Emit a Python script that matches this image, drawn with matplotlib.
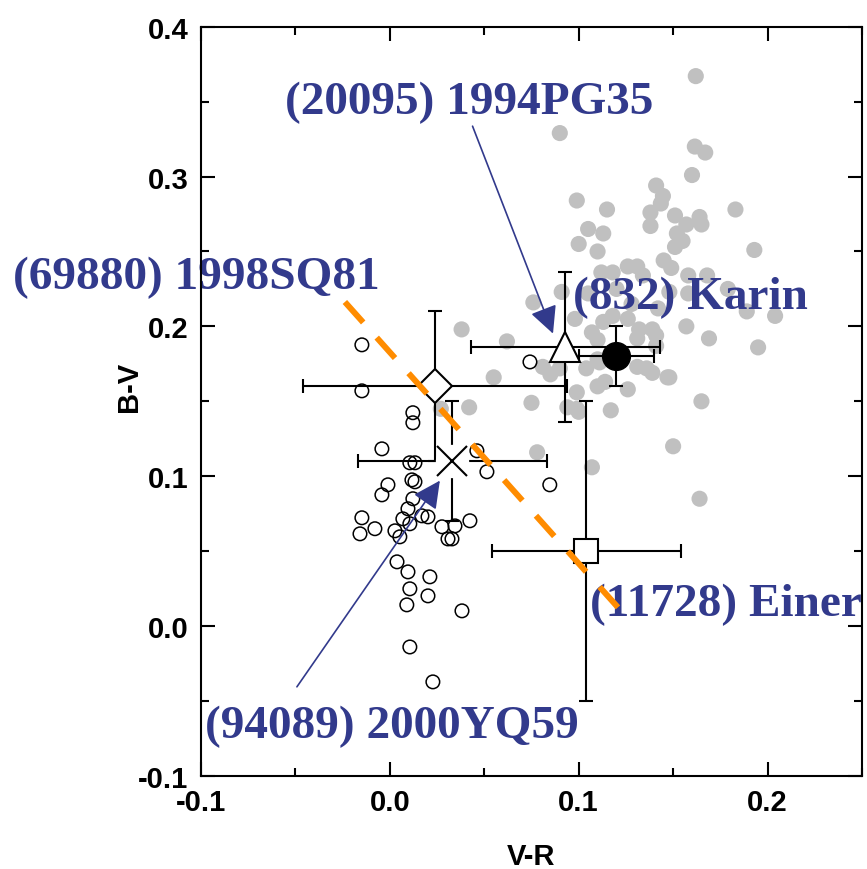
import matplotlib
matplotlib.use('Agg')
import matplotlib.pyplot as plt
from matplotlib.ticker import MultipleLocator, FormatStrFormatter

plt.rcParams['axes.unicode_minus'] = False

# background asteroids (gray dots)
gray_vr = [0.162, 0.090, 0.1615, 0.167, 0.160, 0.141, 0.1446, 0.1435, 0.099, 0.115,
           0.138, 0.183, 0.151, 0.164, 0.165, 0.157, 0.138, 0.105, 0.113, 0.152,
           0.155, 0.100, 0.151, 0.110, 0.193, 0.145, 0.149, 0.112, 0.118, 0.126,
           0.131, 0.134, 0.158, 0.168, 0.091, 0.076, 0.179, 0.148, 0.158, 0.189,
           0.204, 0.157, 0.169, 0.195, 0.038, 0.062, 0.055, 0.075, 0.042, 0.027,
           0.165, 0.148, 0.139, 0.126, 0.117, 0.099, 0.150, 0.078, 0.107, 0.164,
           0.081, 0.085, 0.090, 0.104, 0.110, 0.110, 0.094, 0.131, 0.107, 0.110,
           0.113, 0.118, 0.126, 0.132, 0.139, 0.141, 0.141, 0.131, 0.111, 0.136,
           0.147, 0.099, 0.100, 0.114, 0.105, 0.120, 0.128, 0.142, 0.098]
gray_bv = [0.367, 0.329, 0.320, 0.316, 0.301, 0.294, 0.287, 0.282, 0.284, 0.278,
           0.276, 0.278, 0.274, 0.273, 0.268, 0.268, 0.267, 0.265, 0.262, 0.262,
           0.257, 0.255, 0.253, 0.250, 0.251, 0.244, 0.239, 0.236, 0.236, 0.240,
           0.240, 0.234, 0.234, 0.234, 0.223, 0.216, 0.225, 0.223, 0.222, 0.210,
           0.207, 0.200, 0.192, 0.186, 0.198, 0.190, 0.166, 0.149, 0.146, 0.145,
           0.150, 0.166, 0.169, 0.158, 0.144, 0.156, 0.120, 0.116, 0.106, 0.085,
           0.173, 0.168, 0.172, 0.172, 0.178, 0.160, 0.146, 0.173, 0.196, 0.191,
           0.203, 0.207, 0.205, 0.198, 0.198, 0.194, 0.187, 0.192, 0.176, 0.172,
           0.166, 0.145, 0.143, 0.163, 0.222, 0.225, 0.215, 0.212, 0.205]

# open circles
open_vr = [-0.0148, -0.0148, 0.0742, 0.0122, 0.0122, -0.0042, 0.0106, 0.0133, 0.0461, 0.0514,
           0.0847, -0.0010, -0.0042, 0.0117, 0.0133, 0.0122, 0.0096, -0.0148, -0.0079, -0.0158,
           0.0069, 0.0106, 0.0170, 0.0202, 0.0027, 0.0053, 0.0276, 0.0345, 0.0424, 0.0308,
           0.0329, 0.0038, 0.0096, 0.0212, 0.0106, 0.0202, 0.0090, 0.0382, 0.0106, 0.0228]
open_bv = [0.1877, 0.1570, 0.1763, 0.1424, 0.1357, 0.1183, 0.1090, 0.1090, 0.1170, 0.1030,
           0.0943, 0.0943, 0.0876, 0.0976, 0.0963, 0.0850, 0.0783, 0.0723, 0.0650, 0.0616,
           0.0716, 0.0683, 0.0736, 0.0729, 0.0636, 0.0596, 0.0663, 0.0669, 0.0703, 0.0582,
           0.0582, 0.0429, 0.0362, 0.0329, 0.0249, 0.0202, 0.0142, 0.0102, -0.0139, -0.0372]

# named asteroids: (V-R, B-V, err V-R, err B-V)
karin = (0.120, 0.180, 0.020, 0.020)
pg35 = (0.093, 0.186, 0.050, 0.050)
sq81 = (0.024, 0.160, 0.070, 0.050)
yq59 = (0.033, 0.110, 0.050, 0.040)
einer = (0.104, 0.050, 0.050, 0.100)

trend_vr = [-0.0238, 0.1254]
trend_bv = [0.2163, 0.0060]

blue = '#323a8c'

fig = plt.figure(figsize=(8.67, 8.70), dpi=100)
ax = fig.add_axes([0.2318, 0.1069, 0.7624, 0.8613])

ax.scatter(gray_vr, gray_bv, s=135, color='#c0c0c0', edgecolors='none', zorder=1)
ax.scatter(open_vr, open_bv, s=95, facecolors='none', edgecolors='black', linewidths=1.1, zorder=3)

eb = dict(ecolor='black', elinewidth=1.5, capsize=5, capthick=1.5, zorder=4, linestyle='none')
ax.errorbar(sq81[0], sq81[1], xerr=sq81[2], yerr=sq81[3], marker='D', ms=17,
            mfc='white', mec='black', mew=1.5, **eb)
ax.errorbar(einer[0], einer[1], xerr=einer[2], yerr=einer[3], marker='s', ms=17,
            mfc='white', mec='black', mew=1.5, **eb)
ax.errorbar(yq59[0], yq59[1], xerr=yq59[2], yerr=yq59[3], marker='o', ms=24,
            mfc='white', mec='none', **eb)
ax.plot(yq59[0], yq59[1], marker='x', ms=22, mec='black', mew=1.5, zorder=4.5)
ax.errorbar(pg35[0], pg35[1], xerr=pg35[2], yerr=pg35[3], marker='^', ms=21,
            mfc='white', mec='black', mew=1.5, **eb)
ax.errorbar(karin[0], karin[1], xerr=karin[2], yerr=karin[3], marker='o', ms=20,
            mfc='black', mec='black', **eb)

ax.plot(trend_vr, trend_bv, color='#ff8c00', lw=4.3, dashes=(4.6, 3.4), zorder=6)

tfont = dict(family='Liberation Serif', weight='bold', size=34, color=blue,
             va='center', ha='left', clip_on=False, zorder=2.4)
ax.text(-0.0555, 0.350, '(20095) 1994PG35', **tfont)
ax.text(-0.1995, 0.233, '(69880) 1998SQ81', **tfont)
ax.text(0.0969, 0.2197, '(832) Karin', **tfont)
ax.text(0.106, 0.0149, '(11728) Einer', **tfont)
ax.text(-0.0979, -0.0666, '(94089) 2000YQ59', **tfont)

arrow = dict(arrowstyle='-|>', color=blue, lw=1.2, mutation_scale=42, shrinkA=0, shrinkB=0)
ax.annotate('', xy=(0.0864, 0.1952), xytext=(0.0438, 0.3336), arrowprops=arrow, zorder=5)
ax.annotate('', xy=(0.0265, 0.0971), xytext=(-0.0492, -0.0405), arrowprops=arrow, zorder=5)

ax.set_xlim(-0.1, 0.25)
ax.set_ylim(-0.1, 0.4)
ax.xaxis.set_major_locator(MultipleLocator(0.1))
ax.xaxis.set_minor_locator(MultipleLocator(0.05))
ax.yaxis.set_major_locator(MultipleLocator(0.1))
ax.yaxis.set_minor_locator(MultipleLocator(0.05))
ax.xaxis.set_major_formatter(FormatStrFormatter('%.1f'))
ax.yaxis.set_major_formatter(FormatStrFormatter('%.1f'))
ax.tick_params(which='both', direction='in', top=True, right=True, width=1.5)
ax.tick_params(which='major', length=10, pad=9)
ax.tick_params(which='minor', length=6)
for lab in ax.get_xticklabels() + ax.get_yticklabels():
    lab.set_fontfamily('Liberation Sans')
    lab.set_fontweight('bold')
    lab.set_fontsize(21)
for sp in ax.spines.values():
    sp.set_linewidth(1.5)

ax.set_xlabel('V-R', family='Liberation Sans', weight='bold', size=21)
ax.set_ylabel('B-V', family='Liberation Sans', weight='bold', size=21)
ax.xaxis.set_label_coords(0.5, -0.088)
ax.yaxis.set_label_coords(-0.088, 0.52)

fig.savefig('out.png', dpi=100)
